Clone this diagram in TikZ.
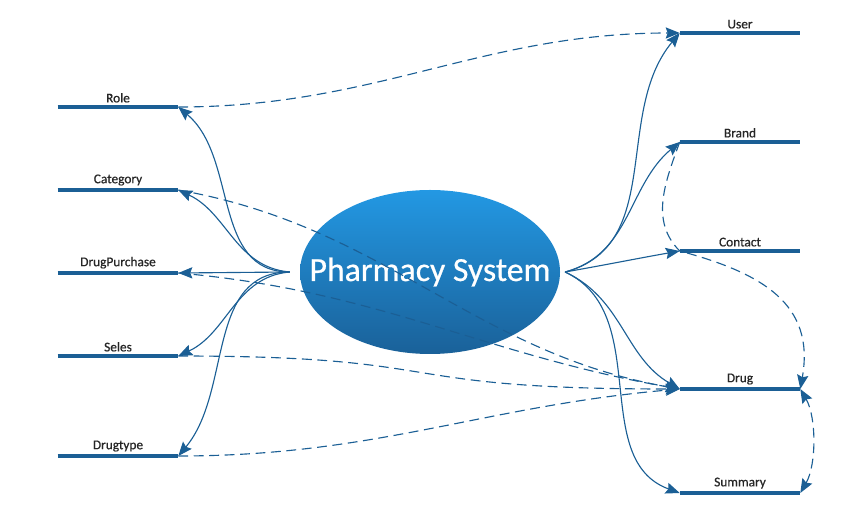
\documentclass[tikz,border=0pt]{standalone}
\usepackage{fontspec}
\setmainfont{Carlito}
\newfontfamily\mapfont[FakeBold=0.6]{Carlito}
\usetikzlibrary{arrows.meta,shapes.geometric}
\definecolor{mapblue}{HTML}{1B5F95}
\definecolor{balltop}{HTML}{2398E3}
\definecolor{ballbot}{HTML}{1A6199}
\begin{document}
\begin{tikzpicture}[
  topic/.style={anchor=south, minimum width=3cm, inner xsep=0pt, inner ysep=3pt, font=\mapfont\fontsize{9.5}{11}\selectfont, text=black!85},
  bar/.style={mapblue, line width=2.8pt},
  link/.style={mapblue, line width=0.8pt, -{Stealth[length=10pt,width=8pt,inset=1.5pt]}},
  ref/.style={link, dash pattern=on 7pt off 4pt}]
  \useasboundingbox (0,0) rectangle (21.2,12.85);
  \node[ellipse, minimum width=6.5cm, minimum height=4.1cm, inner sep=0pt, top color=balltop, bottom color=ballbot,
    label={[text=white, font=\mapfont\fontsize{24}{26}\selectfont]center:Pharmacy System}] (pharm) at (10.75,6.05) {};
  \coordinate (hubL) at ([xshift=-0.25cm]pharm.west);
  \coordinate (hubR) at ([xshift=0.12cm]pharm.east);
  \node[topic] (role) at (2.95,10.175) {Role};
  \node[topic] (category) at (2.95,8.1) {Category};
  \node[topic] (drugpurchase) at (2.95,6.025) {DrugPurchase};
  \node[topic] (seles) at (2.95,3.95) {Seles};
  \node[topic] (drugtype) at (2.95,1.45) {Drugtype};
  \node[topic] (user) at (18.5,12.025) {User};
  \node[topic] (brand) at (18.5,9.3) {Brand};
  \node[topic] (contact) at (18.5,6.575) {Contact};
  \node[topic] (drug) at (18.5,3.125) {Drug};
  \node[topic] (summary) at (18.5,0.525) {Summary};
  \foreach \n in {role,category,drugpurchase,seles,drugtype,user,brand,contact,drug,summary}
    \draw[bar] (\n.south west) -- (\n.south east);
  \draw[link] (hubL) to[out=180,in=-40] (role.south east);
  \draw[link] (hubL) to[out=175,in=-25] (category.south east);
  \draw[link] (hubL) -- (drugpurchase.south east);
  \draw[link] (hubL) to[out=185,in=25] (seles.south east);
  \draw[link] (hubL) to[out=180,in=50] (drugtype.south east);
  \draw[link] (hubR) to[out=15,in=230] (user.south west);
  \draw[link] (hubR) to[out=15,in=220] (brand.south west);
  \draw[link] (hubR) to[out=10,in=190] (contact.south west);
  \draw[link] (hubR) to[out=-25,in=150] (drug.south west);
  \draw[link] (hubR) to[out=-25,in=160] (summary.south west);
  \draw[ref] (role.south east) to[out=0,in=180] (user.south west);
  \draw[ref] (category.south east) to[out=-10,in=170] (drug.south west);
  \draw[ref] (drugpurchase.south east) to[out=-5,in=170] (drug.south west);
  \draw[ref] (seles.south east) .. controls (11.5,3.95) and (9.5,3.125) .. (drug.south west);
  \draw[ref] (drugtype.south east) to[out=0,in=185] (drug.south west);
  \draw[ref] (brand.south west) to[out=-110,in=135] (contact.south west) to[out=-15,in=80,looseness=1.2] (drug.south east);
  \draw[ref, {Stealth[length=10pt,width=8pt,inset=1.5pt]}-{Stealth[length=10pt,width=8pt,inset=1.5pt]}] (summary.south east) to[out=60,in=-60,looseness=0.8] (drug.south east);
\end{tikzpicture}
\end{document}
